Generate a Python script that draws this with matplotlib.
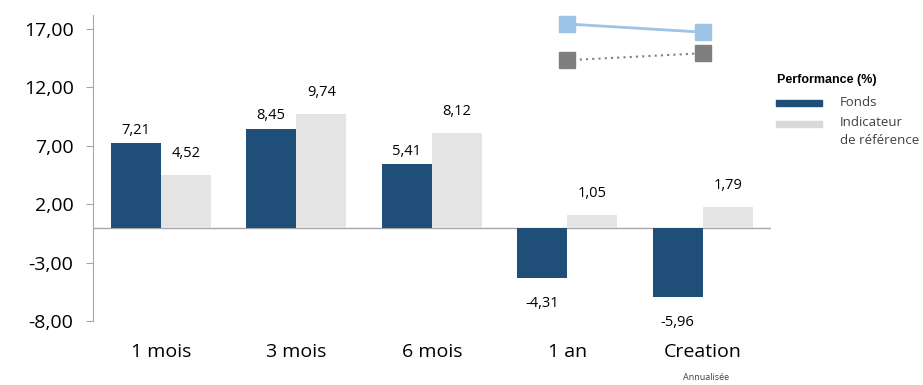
import numpy as np
import matplotlib.pyplot as plt
from matplotlib.patches import Rectangle

categories = ['1 mois', '3 mois', '6 mois', '1 an', 'Creation']
fonds = [7.21, 8.45, 5.41, -4.31, -5.96]
indicateur = [4.52, 9.74, 8.12, 1.05, 1.79]

# stray marker series at top right
marker_idx = [3, 4]
marker_blue = [17.4, 16.7]
marker_grey = [14.3, 14.9]

yticks = [17, 12, 7, 2, -3, -8]

dark = '#1F4E79'
light = '#E4E4E4'
axis_grey = '#A6A6A6'

plt.rcParams['font.family'] = ['Open Sans', 'DejaVu Sans']

fig = plt.figure(figsize=(9.23, 3.85), dpi=100)
ax = fig.add_axes([0.1008, 0.166, 0.734, 0.796])

x = np.arange(len(categories))
w = 0.37
ax.bar(x - w / 2, fonds, w, color=dark, zorder=2)
ax.bar(x + w / 2, indicateur, w, color=light, zorder=2)

def fmt(v):
    return f'{v:.2f}'.replace('.', ',')

for xi, v in zip(x - w / 2, fonds):
    if v >= 0:
        ax.annotate(fmt(v), (xi, v), xytext=(0, 4), textcoords='offset points',
                    ha='center', va='bottom', fontsize=10.5, color='#000000')
    else:
        ax.annotate(fmt(v), (xi, v), xytext=(0, -13), textcoords='offset points',
                    ha='center', va='top', fontsize=10.5, color='#000000')
for xi, v in zip(x + w / 2, indicateur):
    ax.annotate(fmt(v), (xi, v), xytext=(0, 10), textcoords='offset points',
                ha='center', va='bottom', fontsize=10.5, color='#000000')

ax.plot(marker_idx, marker_blue, color='#9DC3E6', lw=2, marker='s', ms=12,
        zorder=3)
ax.plot(marker_idx, marker_grey, color='#7F7F7F', lw=1.5, ls=(0, (1, 2)),
        marker='s', ms=12, zorder=3)

ax.axhline(0, color=axis_grey, lw=1, zorder=1)
ax.set_xlim(-0.5, 4.5)
ax.set_ylim(-8, 18.2)
ax.set_yticks(yticks)
ax.set_yticklabels([fmt(t) for t in yticks], fontsize=14)
ax.set_xticks(x)
ax.set_xticklabels(categories, fontsize=14)
ax.tick_params(axis='x', length=0, pad=16)
ax.tick_params(axis='y', length=5, color=axis_grey, pad=9)
for s in ['top', 'right', 'bottom']:
    ax.spines[s].set_visible(False)
ax.spines['left'].set_color(axis_grey)

# legend drawn by hand
fig.text(777 / 923, 1 - 80 / 385, 'Performance (%)', fontsize=9, fontweight='bold',
         family=['Liberation Sans'], va='center', ha='left')
fig.patches.append(Rectangle((776 / 923, 1 - 106 / 385), 46 / 923, 6 / 385,
                             transform=fig.transFigure, color=dark))
fig.patches.append(Rectangle((776 / 923, 1 - 127 / 385), 46 / 923, 6 / 385,
                             transform=fig.transFigure, color='#D9D9D9'))
fig.text(840 / 923, 1 - 103 / 385, 'Fonds', fontsize=9.5, color='#404040',
         va='center', ha='left')
fig.text(840 / 923, 1 - 122 / 385, 'Indicateur', fontsize=9.5, color='#404040',
         va='center', ha='left')
fig.text(840 / 923, 1 - 141 / 385, 'de référence', fontsize=9.5, color='#404040',
         va='center', ha='left')

fig.text(706 / 923, 1 - 378 / 385, 'Annualisée', fontsize=6.5, color='#404040',
         va='center', ha='center')

fig.savefig('out.png', dpi=100)
